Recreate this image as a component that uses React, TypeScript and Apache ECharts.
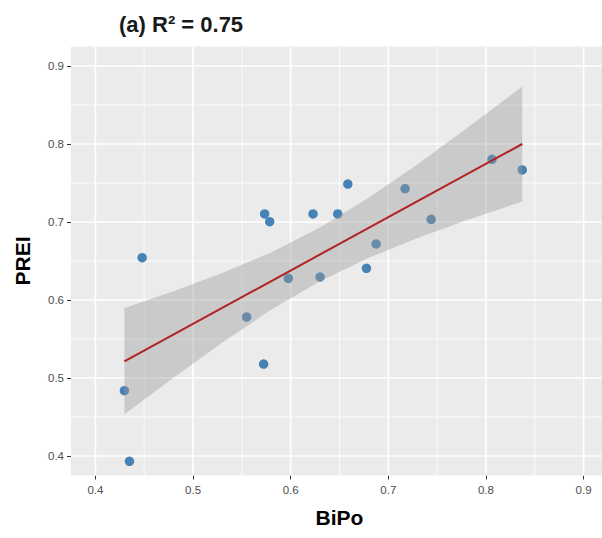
import React, { useEffect, useRef } from "react";
import * as echarts from "echarts";

const bipo = [0.4297, 0.4349, 0.4479, 0.5549, 0.5723, 0.5733, 0.5785, 0.5976, 0.6229, 0.6301, 0.6482, 0.6585, 0.6776, 0.6875, 0.7172, 0.7439, 0.8062, 0.8372];
const prei = [0.4837, 0.3932, 0.6542, 0.5782, 0.5179, 0.7103, 0.7004, 0.6278, 0.7103, 0.6295, 0.7103, 0.7487, 0.6406, 0.6718, 0.7427, 0.7035, 0.7804, 0.7667];

// Fitted line endpoints
const fitX = [0.4297, 0.8372];
const fitY = [0.5214, 0.8];

// Confidence band
const bandX = [0.4297, 0.48, 0.53, 0.58, 0.63, 0.68, 0.73, 0.78, 0.8372];
const bandUpper = [0.5898, 0.6113, 0.6345, 0.661, 0.6928, 0.731, 0.7741, 0.8199, 0.8737];
const bandLower = [0.4534, 0.5003, 0.5455, 0.5874, 0.624, 0.6542, 0.6795, 0.7021, 0.7263];

// Axis ticks
const xMajor = [0.4, 0.5, 0.6, 0.7, 0.8, 0.9];
const xMinor = [0.45, 0.55, 0.65, 0.75, 0.85];
const yMajor = [0.4, 0.5, 0.6, 0.7, 0.8, 0.9];
const yMinor = [0.45, 0.55, 0.65, 0.75, 0.85];
const X_MIN = 0.375, X_MAX = 0.925, Y_MIN = 0.375, Y_MAX = 0.925;

const FONT = "'Liberation Sans', Arial, sans-serif";

function gridSeries(values: number[], vertical: boolean, width: number) {
  return {
    type: "custom",
    silent: true,
    z: 1,
    data: values.map((v) => (vertical ? [v, Y_MIN] : [X_MIN, v])),
    renderItem: (params: any, api: any) => {
      const v = vertical ? api.value(0) : api.value(1);
      const p1 = vertical ? api.coord([v, Y_MIN]) : api.coord([X_MIN, v]);
      const p2 = vertical ? api.coord([v, Y_MAX]) : api.coord([X_MAX, v]);
      return {
        type: "line",
        shape: { x1: p1[0], y1: p1[1], x2: p2[0], y2: p2[1] },
        style: { stroke: "#ffffff", lineWidth: width },
      };
    },
  };
}

export default function App() {
  const ref = useRef<HTMLDivElement>(null);
  useEffect(() => {
    if (!ref.current) return;
    const chart = echarts.init(ref.current, null, { renderer: "svg" });
    const axisCommon = {
      type: "value",
      splitLine: { show: false },
      axisLine: { show: false },
      nameTextStyle: { fontSize: 21, fontWeight: "bold", color: "#000", fontFamily: FONT },
    };
    chart.setOption({
      animation: false,
      backgroundColor: "#ffffff",
      title: {
        text: "(a) R² = 0.75",
        left: 114,
        top: 8,
        textStyle: { fontSize: 22, fontWeight: "bold", color: "#1a1a1a", fontFamily: FONT },
      },
      grid: {
        left: 71,
        right: 0,
        top: 46.5,
        bottom: 62.5,
        show: true,
        backgroundColor: "#EBEBEB",
        borderWidth: 0,
      },
      xAxis: {
        ...axisCommon,
        min: X_MIN,
        max: X_MAX,
        name: "BiPo",
        nameLocation: "middle",
        nameGap: 31,
        axisTick: { show: true, customValues: xMajor, length: 4, lineStyle: { color: "#333333", width: 1 } },
        axisLabel: {
          customValues: xMajor,
          formatter: (v: number) => v.toFixed(1),
          color: "#4D4D4D",
          fontSize: 11.5,
          fontFamily: FONT,
          margin: 8,
        },
      },
      yAxis: {
        ...axisCommon,
        min: Y_MIN,
        max: Y_MAX,
        name: "PREI",
        nameLocation: "middle",
        nameGap: 38,
        nameRotate: 90,
        axisTick: { show: true, customValues: yMajor, length: 4, lineStyle: { color: "#333333", width: 1 } },
        axisLabel: {
          customValues: yMajor,
          formatter: (v: number) => v.toFixed(1),
          color: "#4D4D4D",
          fontSize: 11.5,
          fontFamily: FONT,
          margin: 7,
        },
      },
      series: [
        gridSeries(xMinor, true, 0.8),
        gridSeries(yMinor, false, 0.8),
        gridSeries(xMajor, true, 1.6),
        gridSeries(yMajor, false, 1.6),
        {
          type: "scatter",
          z: 2,
          symbol: "circle",
          symbolSize: 9.5,
          itemStyle: { color: "#4682B4", opacity: 1 },
          data: bipo.map((x, i) => [x, prei[i]]),
        },
        {
          type: "custom",
          z: 3,
          silent: true,
          data: [[bandX[0], bandUpper[0]]],
          renderItem: (params: any, api: any) => {
            const up = bandX.map((x, i) => api.coord([x, bandUpper[i]]));
            const lo = bandX.map((x, i) => api.coord([x, bandLower[i]])).reverse();
            return {
              type: "polygon",
              shape: { points: up.concat(lo) },
              style: { fill: "rgba(153,153,153,0.4)" },
            };
          },
        },
        {
          type: "line",
          z: 4,
          symbol: "none",
          silent: true,
          lineStyle: { color: "#B22222", width: 2 },
          data: fitX.map((x, i) => [x, fitY[i]]),
        },
      ],
    });
    return () => chart.dispose();
  }, []);
  return (
    <div style={{ position: "absolute", left: 0, top: 0, width: 602, height: 538, overflow: "hidden" }}>
      <div ref={ref} style={{ width: 608, height: 538 }} />
    </div>
  );
}
